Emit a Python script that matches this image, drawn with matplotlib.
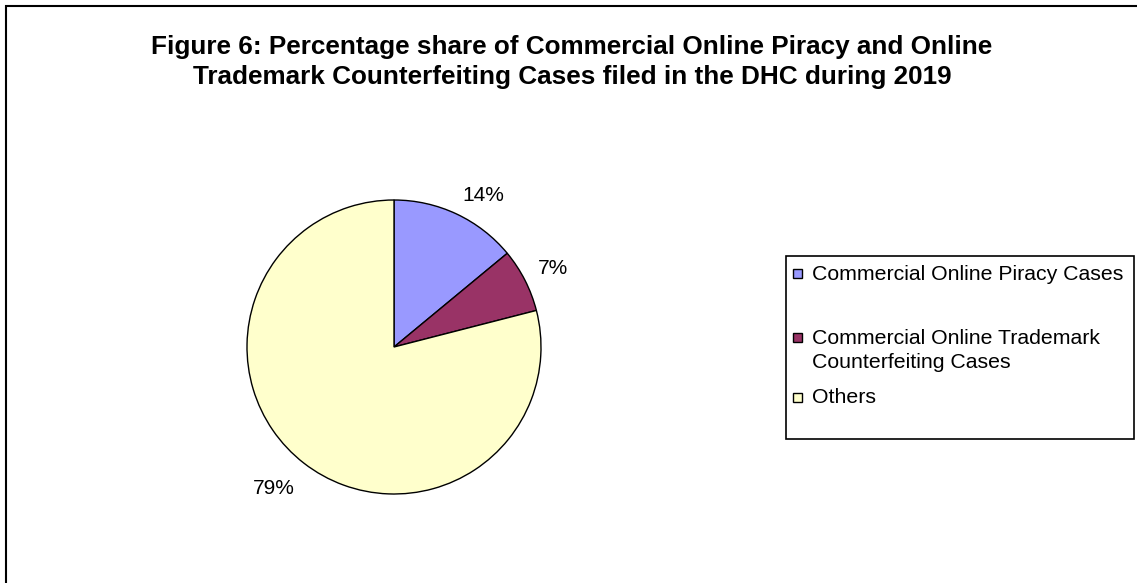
import numpy as np
import matplotlib.pyplot as plt
from matplotlib.patches import Rectangle

plt.rcParams['font.family'] = ['Liberation Sans', 'DejaVu Sans']

categorias = ['Commercial Online Piracy Cases',
              'Commercial Online Trademark\nCounterfeiting Cases',
              'Others']
percentuais = [14, 7, 79]
cores = ['#9999FF', '#993366', '#FFFFCC']
titulo = ('Figure 6: Percentage share of Commercial Online Piracy and Online\n'
          'Trademark Counterfeiting Cases filed in the DHC during 2019')

W, H = 1137, 583
fig = plt.figure(figsize=(W / 100, H / 100), dpi=100)

# moldura externa (lados direito e inferior ficam fora da imagem)
fig.patches.append(Rectangle((5.5 / W, -0.05), 1.2, (H - 5.5) / H + 0.05,
                             transform=fig.transFigure, fill=False,
                             edgecolor='black', linewidth=1.5))

fig.text(572 / W, 1 - 62 / H, titulo, ha='center', va='center',
         fontsize=18.8, fontweight='bold', linespacing=1.3)

# pizza: centro (394, 347), raio 147 px
cx, cy, r = 394, 347, 147
ax = fig.add_axes([(cx - r) / W, (H - cy - r) / H, 2 * r / W, 2 * r / H])
fatias, _ = ax.pie(percentuais, colors=cores, startangle=90, counterclock=False,
                   radius=1, wedgeprops=dict(edgecolor='black', linewidth=1.0))
ax.set_xlim(-1, 1)
ax.set_ylim(-1, 1)

# rotulos fora da fatia, ancorados no canto mais proximo
for f, p in zip(fatias, percentuais):
    ang = np.deg2rad((f.theta1 + f.theta2) / 2)
    x, y = 1.1 * np.cos(ang), 1.1 * np.sin(ang)
    if y < 0:
        y -= 0.03
    ax.text(x, y, f'{p}%', ha='left' if x > 0 else 'right',
            va='baseline' if y > 0 else 'top', fontsize=15, clip_on=False)

# legenda desenhada a mao
fig.patches.append(Rectangle((786 / W, 1 - 439 / H), (1134 - 786) / W, (439 - 255.5) / H,
                             transform=fig.transFigure, fill=False,
                             edgecolor='black', linewidth=1.2))
marcas_y = [273.5, 337.5, 397.5]
textos_y = [275, 350.5, 397.5]
for nome, cor, ym, yt in zip(categorias, cores, marcas_y, textos_y):
    fig.patches.append(Rectangle((793 / W, 1 - (ym + 4.5) / H), 8.5 / W, 9 / H,
                                 transform=fig.transFigure, facecolor=cor,
                                 edgecolor='black', linewidth=1.0))
    fig.text(812 / W, 1 - yt / H, nome, ha='left', va='center',
             fontsize=15.3, linespacing=1.32)

fig.savefig('out.png', dpi=100)
